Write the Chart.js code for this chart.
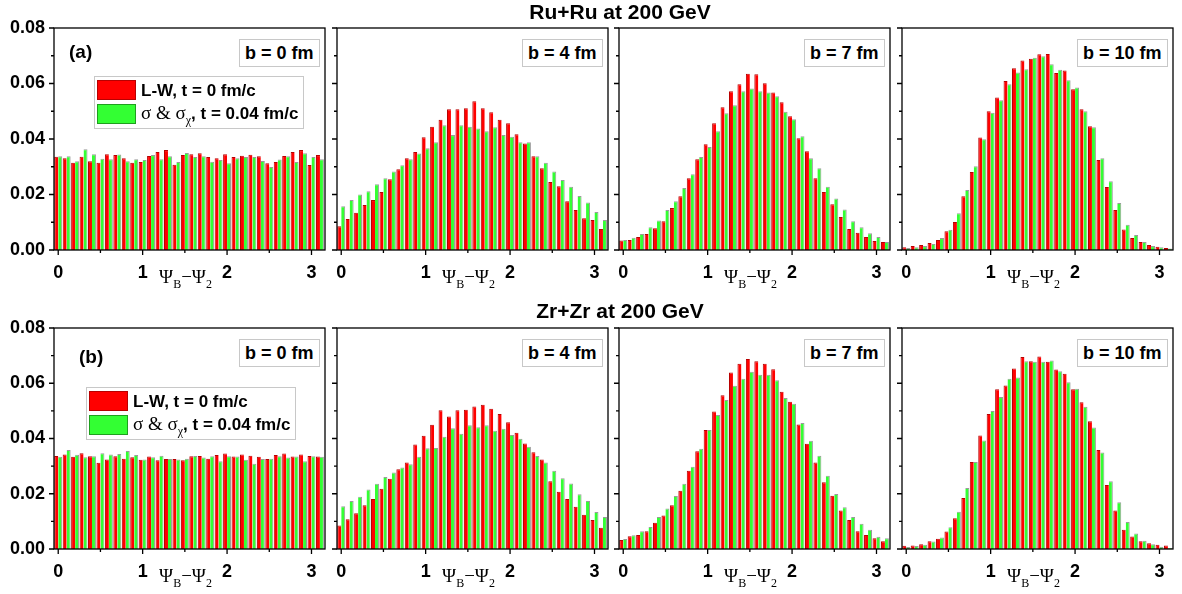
<!DOCTYPE html>
<html><head><meta charset="utf-8">
<script src="https://cdn.jsdelivr.net/npm/chart.js@4.4.1/dist/chart.umd.min.js"></script>
<style>
html,body{margin:0;padding:0;background:#fff;}
#fig{position:relative;width:1182px;height:594px;overflow:hidden;font-family:"Liberation Sans",Arial,sans-serif;color:#000;}
canvas{position:absolute;}
.ttl{position:absolute;font-weight:bold;font-size:21px;line-height:21px;white-space:nowrap;transform:translateX(-50%);}
.bbox{position:absolute;border:1px solid #c8c8c8;background:#fff;font-weight:bold;font-size:18px;line-height:26px;height:26px;padding:0 5px;white-space:nowrap;}
.plab{position:absolute;font-weight:bold;font-size:19px;line-height:19px;white-space:nowrap;}
.xt{position:absolute;font-family:"Liberation Serif","DejaVu Serif",serif;font-size:19px;line-height:19px;white-space:nowrap;transform:translateX(-50%);}
.xt sub,.leg sub{font-size:12px;vertical-align:-5px;line-height:0;}
.leg{position:absolute;border:1px solid #c8c8c8;background:#fff;width:208px;height:51px;}
.leg .sw{position:absolute;left:2px;width:37px;height:18px;}
.leg .tx{position:absolute;left:46px;font-weight:bold;font-size:17px;line-height:22px;white-space:nowrap;}
.sym{font-family:"Liberation Serif","DejaVu Serif",serif;font-weight:normal;font-size:19px;}
</style></head><body><div id="fig"></div>
<script>
// ---- data ----
const PSI = [0.0,0.1,0.2,0.3,0.4,0.5,0.6,0.7,0.8,0.9,1.0,1.1,1.2,1.3,1.4,1.5,1.6,1.7,1.8,1.9,2.0,2.1,2.2,2.3,2.4,2.5,2.6,2.7,2.8,2.9,3.0,3.1];
const X_TICKS = [0,1,2,3];
const X_MINOR = [0.5,1.5,2.5];
const Y_TICKS = [0,0.02,0.04,0.06,0.08];
const Y_MINOR = [0.01,0.03,0.05,0.07];

const RU_B0_LW  = [0.0336,0.0331,0.0314,0.0336,0.0320,0.0314,0.0345,0.0342,0.0331,0.0314,0.0317,0.0339,0.0353,0.0360,0.0307,0.0342,0.0345,0.0349,0.0335,0.0331,0.0345,0.0335,0.0340,0.0343,0.0338,0.0313,0.0317,0.0339,0.0353,0.0360,0.0306,0.0342];
const RU_B0_SIG = [0.0338,0.0338,0.0320,0.0363,0.0345,0.0329,0.0327,0.0344,0.0320,0.0327,0.0324,0.0342,0.0327,0.0338,0.0317,0.0350,0.0335,0.0338,0.0318,0.0324,0.0313,0.0331,0.0335,0.0335,0.0321,0.0299,0.0326,0.0338,0.0317,0.0349,0.0335,0.0327];
const RU_B4_LW  = [0.0086,0.0112,0.0134,0.0162,0.0180,0.0209,0.0255,0.0291,0.0331,0.0353,0.0406,0.0444,0.0469,0.0507,0.0507,0.0511,0.0536,0.0511,0.0496,0.0469,0.0457,0.0417,0.0384,0.0338,0.0295,0.0245,0.0230,0.0176,0.0144,0.0114,0.0108,0.0076];
const RU_B4_SIG = [0.0158,0.0180,0.0200,0.0212,0.0237,0.0259,0.0283,0.0305,0.0327,0.0348,0.0367,0.0388,0.0450,0.0414,0.0450,0.0444,0.0438,0.0428,0.0442,0.0414,0.0408,0.0388,0.0388,0.0338,0.0314,0.0283,0.0252,0.0228,0.0195,0.0171,0.0137,0.0108];
const RU_B7_LW  = [0.0034,0.0036,0.0047,0.0058,0.0078,0.0104,0.0151,0.0194,0.0259,0.0327,0.0381,0.0457,0.0514,0.0572,0.0597,0.0635,0.0633,0.0601,0.0568,0.0532,0.0482,0.0403,0.0356,0.0259,0.0209,0.0165,0.0119,0.0076,0.0062,0.0047,0.0032,0.0029];
const RU_B7_SIG = [0.0036,0.0044,0.0058,0.0082,0.0106,0.0144,0.0176,0.0223,0.0273,0.0335,0.0371,0.0428,0.0493,0.0522,0.0572,0.0582,0.0572,0.0568,0.0554,0.0498,0.0471,0.0410,0.0331,0.0295,0.0228,0.0186,0.0146,0.0104,0.0082,0.0060,0.0047,0.0029];
const RU_B10_LW  = [0.0010,0.0014,0.0018,0.0025,0.0036,0.0068,0.0101,0.0194,0.0281,0.0405,0.0500,0.0550,0.0609,0.0655,0.0683,0.0689,0.0705,0.0706,0.0638,0.0647,0.0579,0.0507,0.0446,0.0324,0.0227,0.0144,0.0074,0.0043,0.0029,0.0018,0.0012,0.0007];
const RU_B10_SIG = [0.0007,0.0010,0.0014,0.0022,0.0043,0.0073,0.0132,0.0216,0.0302,0.0399,0.0495,0.0540,0.0597,0.0640,0.0651,0.0693,0.0698,0.0669,0.0650,0.0612,0.0586,0.0500,0.0442,0.0331,0.0248,0.0169,0.0091,0.0054,0.0029,0.0014,0.0010,0.0005];

const ZR_B0_LW  = [0.0337,0.0342,0.0334,0.0347,0.0336,0.0312,0.0324,0.0336,0.0327,0.0332,0.0323,0.0335,0.0321,0.0326,0.0326,0.0321,0.0336,0.0337,0.0327,0.0340,0.0346,0.0335,0.0342,0.0338,0.0334,0.0326,0.0340,0.0346,0.0335,0.0342,0.0337,0.0335];
const ZR_B0_SIG = [0.0334,0.0358,0.0341,0.0332,0.0336,0.0347,0.0342,0.0344,0.0355,0.0340,0.0324,0.0332,0.0338,0.0326,0.0324,0.0327,0.0337,0.0331,0.0336,0.0318,0.0336,0.0335,0.0323,0.0309,0.0326,0.0327,0.0336,0.0331,0.0335,0.0318,0.0336,0.0334];
const ZR_B4_LW  = [0.0085,0.0108,0.0129,0.0158,0.0181,0.0218,0.0254,0.0289,0.0313,0.0378,0.0410,0.0450,0.0502,0.0480,0.0502,0.0504,0.0516,0.0522,0.0508,0.0489,0.0459,0.0421,0.0382,0.0350,0.0324,0.0245,0.0207,0.0181,0.0153,0.0124,0.0105,0.0077];
const ZR_B4_SIG = [0.0155,0.0174,0.0189,0.0215,0.0236,0.0261,0.0277,0.0295,0.0307,0.0334,0.0365,0.0366,0.0406,0.0437,0.0417,0.0448,0.0441,0.0448,0.0428,0.0435,0.0413,0.0399,0.0370,0.0337,0.0313,0.0283,0.0256,0.0237,0.0198,0.0174,0.0134,0.0116];
const ZR_B7_LW  = [0.0033,0.0046,0.0051,0.0064,0.0095,0.0121,0.0158,0.0211,0.0283,0.0354,0.0431,0.0498,0.0557,0.0639,0.0671,0.0688,0.0680,0.0671,0.0651,0.0569,0.0533,0.0451,0.0381,0.0313,0.0242,0.0193,0.0139,0.0105,0.0064,0.0051,0.0039,0.0028];
const ZR_B7_SIG = [0.0036,0.0050,0.0064,0.0080,0.0116,0.0147,0.0192,0.0236,0.0298,0.0363,0.0431,0.0485,0.0539,0.0591,0.0616,0.0642,0.0631,0.0631,0.0611,0.0547,0.0526,0.0456,0.0392,0.0338,0.0265,0.0199,0.0151,0.0116,0.0091,0.0070,0.0044,0.0039];
const ZR_B10_LW  = [0.0012,0.0013,0.0017,0.0028,0.0037,0.0063,0.0111,0.0185,0.0315,0.0411,0.0489,0.0578,0.0592,0.0653,0.0695,0.0680,0.0697,0.0678,0.0650,0.0634,0.0578,0.0531,0.0462,0.0358,0.0232,0.0139,0.0070,0.0045,0.0028,0.0021,0.0015,0.0013];
const ZR_B10_SIG = [0.0007,0.0011,0.0015,0.0027,0.0042,0.0079,0.0135,0.0221,0.0315,0.0393,0.0500,0.0550,0.0616,0.0621,0.0680,0.0678,0.0678,0.0682,0.0643,0.0604,0.0580,0.0515,0.0440,0.0349,0.0245,0.0169,0.0098,0.0056,0.0030,0.0017,0.0008,0.0004];

const ROW_TITLES = ['Ru+Ru at 200 GeV','Zr+Zr at 200 GeV'];
const ROW_LABELS = ['(a)','(b)'];
const B_LABELS = ['b = 0 fm','b = 4 fm','b = 7 fm','b = 10 fm'];
const SERIES_NAMES = ['L-W, t = 0 fm/c','σ & σχ, t = 0.04 fm/c'];
const PANEL_DATA = [
  [[RU_B0_LW,RU_B0_SIG],[RU_B4_LW,RU_B4_SIG],[RU_B7_LW,RU_B7_SIG],[RU_B10_LW,RU_B10_SIG]],
  [[ZR_B0_LW,ZR_B0_SIG],[ZR_B4_LW,ZR_B4_SIG],[ZR_B7_LW,ZR_B7_SIG],[ZR_B10_LW,ZR_B10_SIG]]
];

// ---- layout ----
const COL_LEFT = [54,337,619,902];
const PLOT_W = 271;
const ROW_TOP = [28,328];
const PLOT_H = [222,221];
const MT = 24, MR = 6, MB = 42;
const RED = '#ff0000', RED_B = '#b80000', GRN = '#33ff33', GRN_B = '#9a9a9a';
const FONT = 'Liberation Sans';

const fig = document.getElementById('fig');
function el(tag, cls, html, css){ const e=document.createElement(tag); if(cls) e.className=cls; if(html!=null) e.innerHTML=html; Object.assign(e.style, css||{}); fig.appendChild(e); return e; }

const framePlugin = {
  id:'frame',
  afterDraw(chart){
    const {ctx, chartArea:{left,right,top,bottom}, scales:{x,y}} = chart;
    ctx.save();
    ctx.strokeStyle='#000'; ctx.lineWidth=1.3;
    ctx.strokeRect(left, top, right-left, bottom-top);
    ctx.beginPath();
    Y_TICKS.forEach(v=>{const p=y.getPixelForValue(v); ctx.moveTo(left-5,p); ctx.lineTo(left,p);});
    Y_MINOR.forEach(v=>{const p=y.getPixelForValue(v); ctx.moveTo(left-3,p); ctx.lineTo(left,p);});
    X_TICKS.forEach(v=>{const p=x.getPixelForValue(v); ctx.moveTo(p,bottom); ctx.lineTo(p,bottom+5);});
    X_MINOR.forEach(v=>{const p=x.getPixelForValue(v); ctx.moveTo(p,bottom); ctx.lineTo(p,bottom+3);});
    ctx.stroke();
    ctx.restore();
  }
};

for (let r=0;r<2;r++){
  for (let c=0;c<4;c++){
    const ML = c===0 ? 54 : 12;
    const cv = document.createElement('canvas');
    cv.width = ML + PLOT_W + MR;
    cv.height = MT + PLOT_H[r] + MB;
    cv.style.left = (COL_LEFT[c]-ML)+'px';
    cv.style.top = (ROW_TOP[r]-MT)+'px';
    fig.appendChild(cv);
    const [lw, sg] = PANEL_DATA[r][c];
    new Chart(cv, {
      type:'bar',
      data:{datasets:[
        {label:SERIES_NAMES[0], data:PSI.map((v,i)=>({x:v,y:lw[i]})), backgroundColor:RED, borderColor:RED_B, borderWidth:{left:1,top:1,right:0,bottom:0}, borderSkipped:false},
        {label:SERIES_NAMES[1], data:PSI.map((v,i)=>({x:v,y:sg[i]})), backgroundColor:GRN, borderColor:GRN_B, borderWidth:{left:0,top:1,right:1,bottom:0}, borderSkipped:false}
      ]},
      options:{
        responsive:false, animation:false, devicePixelRatio:1,
        layout:{padding:{top:MT,right:MR,left:0,bottom:0}},
        plugins:{legend:{display:false},tooltip:{enabled:false}},
        datasets:{bar:{categoryPercentage:0.94,barPercentage:1}},
        scales:{
          x:{type:'linear',min:-0.05,max:3.16,offset:false,
             grid:{display:false},border:{display:false},
             afterBuildTicks:s=>{s.ticks=X_TICKS.map(v=>({value:v}));},
             ticks:{color:'#000',padding:4,maxRotation:0,autoSkip:false,font:{family:FONT,size:18,weight:'bold'},callback:v=>String(v)},
             afterFit:s=>{s.height=MB;}},
          y:{type:'linear',min:0,max:0.08,
             grid:{display:false},border:{display:false},
             afterBuildTicks:s=>{s.ticks=Y_TICKS.map(v=>({value:v}));},
             ticks:{display:c===0,color:'#000',padding:1,font:{family:FONT,size:18,weight:'bold'},callback:v=>Number(v).toFixed(2)},
             afterFit:s=>{s.width=ML;}}
        }
      },
      plugins:[framePlugin]
    });
    // b-label box
    const bx = el('div','bbox',B_LABELS[c],{top:(ROW_TOP[r]+11)+'px'});
    bx.style.left = (COL_LEFT[c]+PLOT_W-5-bx.offsetWidth)+'px';
    // x-axis title
    el('div','xt','Ψ<sub>B</sub>−Ψ<sub>2</sub>',{left:(COL_LEFT[c]+PLOT_W/2-4)+'px',top:(ROW_TOP[r]+PLOT_H[r]+17)+'px'});
  }
  // row title
  el('div','ttl',ROW_TITLES[r],{left:'620px',top:(r===0?1:300)+'px'});
}

// panel labels
el('div','plab',ROW_LABELS[0],{left:'69px',top:'42px'});
el('div','plab',ROW_LABELS[1],{left:'79px',top:'347px'});

// legends
const LEG_POS = [[94,76],[86,387]];
LEG_POS.forEach(([lx,ly])=>{
  const lg = el('div','leg',null,{left:lx+'px',top:ly+'px'});
  lg.innerHTML =
    '<div class="sw" style="top:3px;background:'+RED+';border:1px solid '+RED_B+'"></div>'+
    '<div class="tx" style="top:3px">'+SERIES_NAMES[0]+'</div>'+
    '<div class="sw" style="top:27px;background:'+GRN+';border:1px solid #1f9f1f"></div>'+
    '<div class="tx" style="top:25px"><span class="sym">σ &amp; σ<sub>χ</sub></span>, t = 0.04 fm/c</div>';
});
</script></body></html>
